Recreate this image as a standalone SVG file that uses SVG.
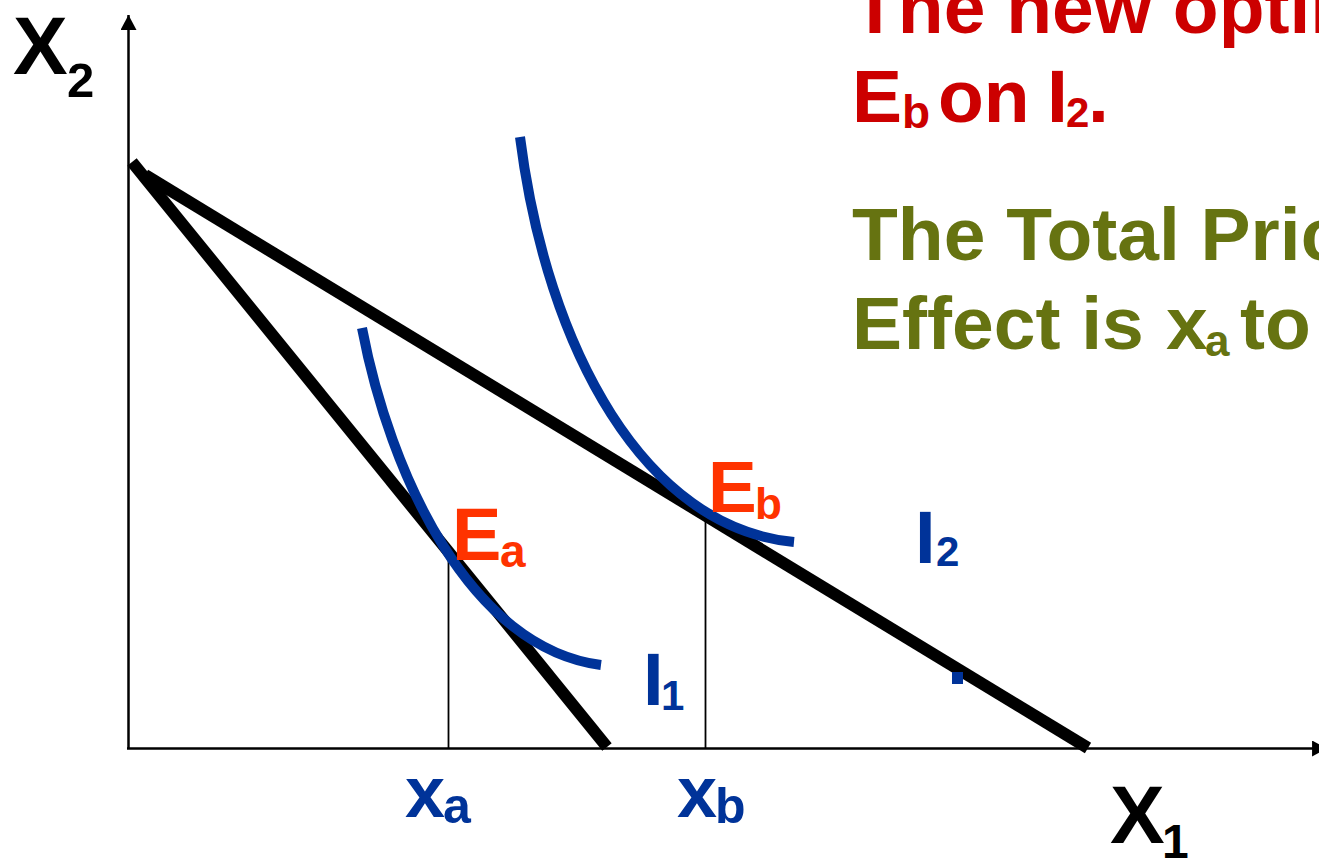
<svg xmlns="http://www.w3.org/2000/svg" width="1319" height="860" viewBox="0 0 1319 860">
<style>
text{font-family:"Liberation Sans",Arial,sans-serif;font-weight:bold}
.axis{stroke:#000;stroke-width:2.5;fill:none}
.drop{stroke:#000;stroke-width:1.8;fill:none}
.budget{stroke:#000;stroke-width:12;fill:none;stroke-linecap:butt}
.ic{stroke:#003399;stroke-width:10;fill:none;stroke-linecap:butt}
.red{fill:#cc0000}
.green{fill:#667311}
.orange{fill:#ff3300}
.blue{fill:#003399}
.blk{fill:#000}
</style>
<defs>
<marker id="arr" markerUnits="userSpaceOnUse" markerWidth="16" markerHeight="16" viewBox="0 0 14 15" refX="14" refY="7.5" orient="auto">
<path d="M0,0 L14,7.5 L0,15 Z" fill="#000"/>
</marker>
</defs>
<g id="connectors">
<line class="axis" x1="128.5" y1="749" x2="128.5" y2="15" marker-end="url(#arr)"/>
<line class="axis" x1="127" y1="748.5" x2="1327" y2="748.5" marker-end="url(#arr)"/>
<line class="drop" x1="448.5" y1="558" x2="448.5" y2="748"/>
<line class="drop" x1="705.5" y1="510" x2="705.5" y2="748"/>
</g>
<g id="budget-line-1"><line class="budget" x1="132" y1="162" x2="607" y2="747"/></g>
<g id="budget-line-2"><line class="budget" x1="145" y1="175" x2="1088" y2="748"/></g>
<g id="curve-I1"><path class="ic" d="M362,328 C390,475 470,648 601,665"/></g>
<g id="curve-I2"><path class="ic" d="M520,137 C547,350 645,528 794,542"/></g>
<g id="dot"><rect x="952" y="672" width="11" height="12" class="blue"/></g>
<g id="label-X2"><text class="blk" x="13" y="74" font-size="82">X</text><text class="blk" x="67" y="97" font-size="49">2</text></g>
<g id="label-X1"><text class="blk" x="1110" y="843" font-size="82">X</text><text class="blk" x="1162" y="858" font-size="48">1</text></g>
<g id="label-Ea"><text class="orange" x="452" y="560" font-size="74">E</text><text class="orange" x="500" y="567" font-size="46">a</text></g>
<g id="label-Eb"><text class="orange" x="708" y="512" font-size="73">E</text><text class="orange" x="755" y="519" font-size="44">b</text></g>
<g id="label-I1"><text class="blue" x="643" y="705" font-size="74">I</text><text class="blue" x="661" y="710" font-size="42">1</text></g>
<g id="label-I2"><text class="blue" x="915" y="563" font-size="74">I</text><text class="blue" x="936" y="566" font-size="42">2</text></g>
<g id="label-xa"><text class="blue" x="405" y="817" font-size="72">x</text><text class="blue" x="443" y="823" font-size="50">a</text></g>
<g id="label-xb"><text class="blue" x="677" y="817" font-size="72">x</text><text class="blue" x="715" y="823" font-size="50">b</text></g>
<g id="text-red">
<text class="red" x="852" y="33" font-size="75">The new optim</text>
<text class="red" x="852" y="122" font-size="75">E</text>
<text class="red" x="902" y="128" font-size="46">b</text>
<text class="red" x="938" y="122" font-size="75">on</text>
<text class="red" x="1047" y="122" font-size="75">I</text>
<text class="red" x="1066" y="127" font-size="42">2</text>
<text class="red" x="1088" y="122" font-size="75">.</text>
</g>
<g id="text-green">
<text class="green" x="852" y="260" font-size="75">The Total Price</text>
<text class="green" x="852" y="349" font-size="75">Effect is</text>
<text class="green" x="1166" y="349" font-size="75">x</text>
<text class="green" x="1205" y="356" font-size="44">a</text>
<text class="green" x="1240" y="349" font-size="75">to</text>
</g>
</svg>
